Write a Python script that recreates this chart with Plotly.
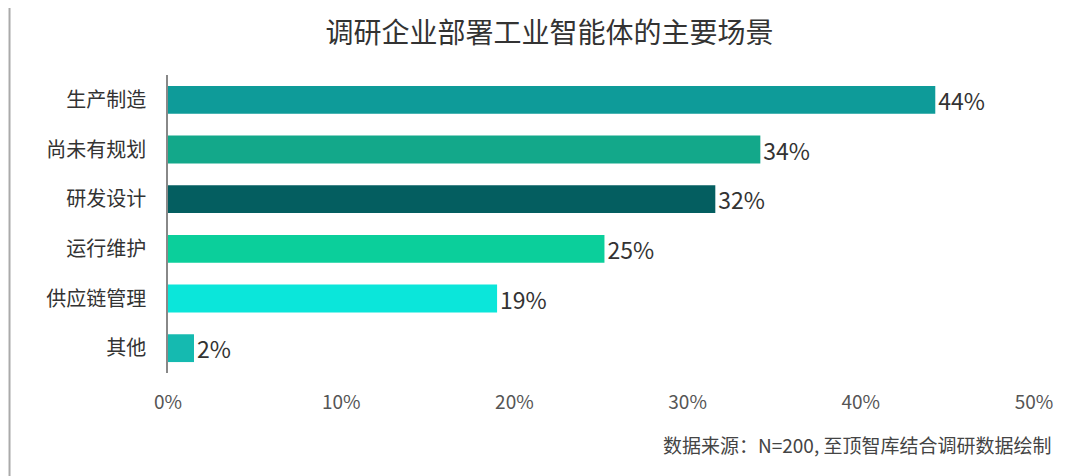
import plotly.graph_objects as go

# 调研企业部署工业智能体的主要场景 (N=200)
scenes = ["生产制造", "尚未有规划", "研发设计", "运行维护", "供应链管理", "其他"]
shares = [44.3, 34.2, 31.6, 25.2, 19.0, 1.5]
bar_colors = ["#0E9B99", "#13A88A", "#045E60", "#0BCF9B", "#0BE6DA", "#15BAB0"]
x_ticks = [0, 10, 20, 30, 40, 50]
x_tick_labels = ["0%", "10%", "20%", "30%", "40%", "50%"]

font_family = "Noto Sans CJK SC, Noto Sans, sans-serif"

fig = go.Figure()
fig.add_trace(go.Bar(
    x=shares,
    y=scenes,
    orientation="h",
    marker=dict(color=bar_colors, line=dict(width=0)),
    text=[f"{v:.0f}%" for v in shares],
    textposition="outside",
    constraintext="none",
    textfont=dict(size=23, color="#333333", family=font_family),
    cliponaxis=False,
    hoverinfo="skip",
))

fig.update_layout(
    width=1068,
    height=476,
    paper_bgcolor="white",
    plot_bgcolor="white",
    margin=dict(l=160, r=42, t=67, b=111),
    bargap=0.44,
    showlegend=False,
    font=dict(family=font_family, color="#444444"),
    title=dict(
        text="调研企业部署工业智能体的主要场景",
        x=0.507, xanchor="center", y=0.947, yanchor="middle",
        font=dict(size=28, color="#333333", family=font_family),
    ),
)

fig.update_xaxes(
    range=[0, 50],
    tickvals=x_ticks,
    ticktext=x_tick_labels,
    showgrid=False,
    zeroline=False,
    showline=False,
    tickfont=dict(size=19, color="#555555"),
    ticks="",
    ticklabelstandoff=16,
)
fig.update_yaxes(
    categoryorder="array",
    categoryarray=scenes[::-1],
    showline=True,
    linecolor="#888888",
    linewidth=1.5,
    showgrid=False,
    ticks="",
    ticklabelstandoff=16,
    tickfont=dict(size=20, color="#333333"),
)

# source note, kept fully inside the picture
fig.add_annotation(
    text="数据来源：N=200, 至顶智库结合调研数据绘制",
    xref="paper", yref="paper",
    x=1.022, y=-0.24,
    xanchor="right", yanchor="middle",
    showarrow=False,
    font=dict(size=19, color="#444444", family=font_family),
)

# thin grey frame edge on the left
fig.add_shape(type="line", xref="paper", yref="paper",
              x0=-0.183, x1=-0.183, y0=-0.38, y1=1.23,
              line=dict(color="#AAAAAA", width=2))

fig.write_html("out.html")
